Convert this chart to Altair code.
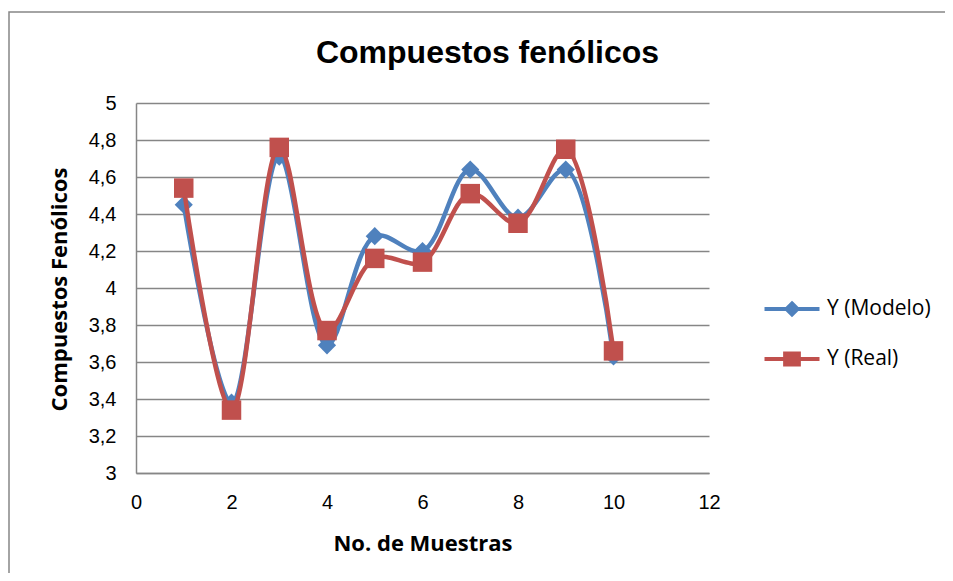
import altair as alt
import pandas as pd

# ---- data ----
muestras = [1, 2, 3, 4, 5, 6, 7, 8, 9, 10]
y_modelo = [4.45, 3.38, 4.71, 3.69, 4.28, 4.20, 4.64, 4.38, 4.64, 3.63]
y_real = [4.54, 3.34, 4.76, 3.77, 4.16, 4.14, 4.51, 4.35, 4.75, 3.66]
series_names = ["Y (Modelo)", "Y (Real)"]
series_colors = ["#4F81BD", "#C0504D"]
y_ticks = [3.0, 3.2, 3.4, 3.6, 3.8, 4.0, 4.2, 4.4, 4.6, 4.8, 5.0]
x_ticks = [0, 2, 4, 6, 8, 10, 12]

df = pd.DataFrame({
    "muestra": muestras + muestras,
    "valor": y_modelo + y_real,
    "serie": [series_names[0]] * len(muestras) + [series_names[1]] * len(muestras),
})

GRAY = "#868686"
color_scale = alt.Scale(domain=series_names, range=series_colors)
# legend symbols: a line with the marker on it
legend_paths = [
    "M-2,0H2M0,-0.4L0.4,0L0,0.4L-0.4,0Z",
    "M-2,0H2M-0.5,-0.4H0.5V0.4H-0.5Z",
]

x_enc = alt.X(
    "muestra:Q",
    scale=alt.Scale(domain=[0, 12], nice=False),
    axis=alt.Axis(
        values=x_ticks, title="No. de Muestras", grid=False, ticks=False,
        domainColor=GRAY, domainWidth=1.5,
        labelFont="Liberation Sans", labelFontSize=20, labelColor="black",
        labelPadding=19, labelFlush=False, labelOverlap=False,
        titleFont="Open Sans", titleFontWeight="bold", titleFontSize=22,
        titleColor="black", titleY=70, titleBaseline="middle",
    ),
)
y_enc = alt.Y(
    "valor:Q",
    scale=alt.Scale(domain=[3, 5], nice=False, zero=False),
    axis=alt.Axis(
        values=y_ticks, title="Compuestos Fenólicos", grid=True, ticks=False,
        gridColor=GRAY, gridWidth=1.5, domainColor=GRAY, domainWidth=1.5,
        labelExpr="replace(format(datum.value, '.1~f'), '.', ',')",
        labelFont="Liberation Sans", labelFontSize=20, labelColor="black",
        labelPadding=20, labelFlush=False, labelOverlap=False,
        titleFont="Open Sans", titleFontWeight="bold", titleFontSize=22,
        titleColor="black", titleX=-77, titleY=186, titleAngle=-90,
        titleAlign="center", titleBaseline="middle",
    ),
)

base = alt.Chart(df)

legend_layer = base.transform_filter("false").mark_point(
    filled=True, strokeWidth=4, size=756, opacity=1
).encode(
    x=x_enc, y=y_enc,
    shape=alt.Shape(
        "serie:N",
        scale=alt.Scale(domain=series_names, range=legend_paths),
        legend=alt.Legend(
            title=None, orient="none", legendX=640, legendY=190,
            labelFont="Open Sans", labelFontSize=21, labelColor="black",
            symbolSize=756, symbolStrokeWidth=4, labelOffset=19,
            rowPadding=20, padding=0,
        ),
    ),
    fill=alt.Fill("serie:N", scale=color_scale, legend=alt.Legend(title=None)),
    stroke=alt.Stroke("serie:N", scale=color_scale, legend=alt.Legend(title=None)),
)

layers = [legend_layer]
marker_shapes = ["diamond", "square"]
marker_sizes = [330, 380]
for name, shp, sz in zip(series_names, marker_shapes, marker_sizes):
    sub = base.transform_filter(alt.datum.serie == name)
    line = sub.mark_line(interpolate="catmull-rom", strokeWidth=4.5).encode(
        x=x_enc, y=y_enc,
        stroke=alt.Stroke("serie:N", scale=color_scale, legend=None),
    )
    pts = sub.mark_point(shape=shp, filled=True, size=sz, strokeWidth=0, opacity=1).encode(
        x=x_enc, y=y_enc,
        fill=alt.Fill("serie:N", scale=color_scale, legend=None),
    )
    layers += [line, pts]

frame = alt.Chart(pd.DataFrame({"k": [0]})).mark_rect(
    fillOpacity=0, stroke=GRAY, strokeWidth=1.5
).encode(
    x=alt.value(-127), x2=alt.value(900), y=alt.value(-91), y2=alt.value(520)
)

chart = alt.layer(frame, *layers).properties(
    width=573,
    height=370,
    padding={"left": 128, "top": 95, "right": 236, "bottom": 100},
    autosize=alt.AutoSizeParams(type="none"),
    title=alt.TitleParams(
        "Compuestos fenólicos", font="Liberation Sans", fontSize=32,
        fontWeight="bold", color="black", anchor="middle", dx=65,
        offset=-59,
    ),
).configure_view(stroke=None)

chart.save("out.html", embed_options={"renderer": "svg", "actions": False})
